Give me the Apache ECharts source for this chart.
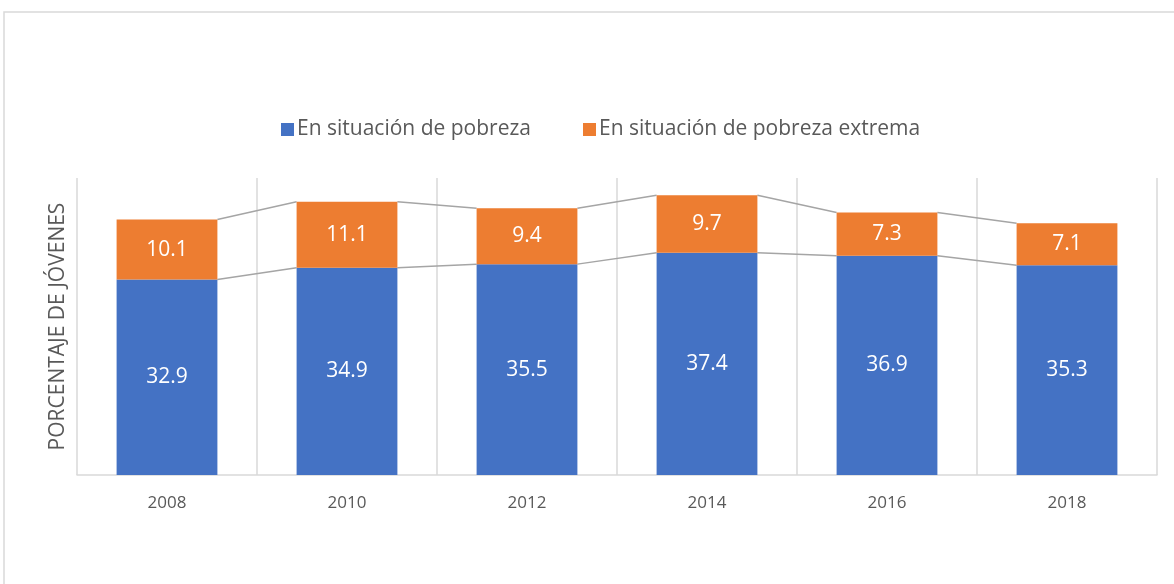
<!DOCTYPE html>
<html>
<head>
<meta charset="utf-8">
<script src="https://cdn.jsdelivr.net/npm/echarts@6/dist/echarts.min.js"></script>
<style>
html,body{margin:0;padding:0;background:#fff;}
#main{width:1174px;height:584px;}
</style>
</head>
<body>
<div id="main"></div>
<script>
var years = ['2008', '2010', '2012', '2014', '2016', '2018'];
var pobreza = [32.9, 34.9, 35.5, 37.4, 36.9, 35.3];
var extrema = [10.1, 11.1, 9.4, 9.7, 7.3, 7.1];

var fontFam = '"Open Sans", "Noto Sans", sans-serif';
var barPct = 0.56;

// connector segments: [index, value here, value next]
function links(tops) {
    var out = [];
    for (var i = 0; i < tops.length - 1; i++) {
        out.push([i, tops[i], tops[i + 1]]);
    }
    return out;
}
var tops1 = pobreza.slice();
var tops2 = pobreza.map(function (v, i) { return +(v + extrema[i]).toFixed(1); });

function linkItem(params, api) {
    var i = api.value(0);
    var a = api.coord([i, api.value(1)]);
    var b = api.coord([i + 1, api.value(2)]);
    var half = api.size([1, 0])[0] * barPct / 2;
    return {
        type: 'line',
        shape: { x1: a[0] + half, y1: a[1], x2: b[0] - half, y2: b[1] },
        style: { stroke: '#A5A5A5', lineWidth: 1.5 }
    };
}

var option = {
    backgroundColor: '#fff',
    animation: false,
    textStyle: { fontFamily: fontFam },
    graphic: [{
        type: 'rect',
        shape: { x: 4, y: 12, width: 1180, height: 600 },
        style: { fill: 'none', stroke: '#D9D9D9', lineWidth: 1.5 },
        silent: true
    }],
    legend: {
        top: 114,
        left: 276,
        itemWidth: 13,
        itemHeight: 13,
        itemGap: 52,
        icon: 'rect',
        data: ['En situación de pobreza', 'En situación de pobreza extrema'],
        textStyle: { color: '#595959', fontSize: 21, fontFamily: fontFam, padding: [0, 0, 0, -2] }
    },
    grid: { left: 77, right: 17, top: 178, bottom: 109 },
    xAxis: {
        type: 'category',
        data: years,
        axisLine: { lineStyle: { color: '#D9D9D9', width: 1.5 } },
        axisTick: { show: false },
        splitLine: { show: true, lineStyle: { color: '#D9D9D9', width: 1.5 } },
        axisLabel: { color: '#595959', fontSize: 17, margin: 20, fontFamily: fontFam }
    },
    yAxis: {
        type: 'value',
        min: 0,
        max: 50,
        name: 'PORCENTAJE DE JÓVENES',
        nameLocation: 'middle',
        nameGap: 8,
        nameTextStyle: { color: '#595959', fontSize: 21, fontFamily: fontFam },
        axisLine: { show: false },
        axisTick: { show: false },
        axisLabel: { show: false },
        splitLine: { show: false }
    },
    series: [
        {
            name: 'En situación de pobreza',
            type: 'bar',
            stack: 'total',
            barWidth: (barPct * 100) + '%',
            itemStyle: { color: '#4472C4' },
            label: { show: true, position: 'inside', color: '#fff', fontSize: 21, fontFamily: fontFam },
            data: pobreza
        },
        {
            name: 'En situación de pobreza extrema',
            type: 'bar',
            stack: 'total',
            barWidth: (barPct * 100) + '%',
            itemStyle: { color: '#ED7D31' },
            label: { show: true, position: 'inside', color: '#fff', fontSize: 21, fontFamily: fontFam },
            data: extrema
        },
        {
            type: 'custom',
            renderItem: linkItem,
            silent: true,
            z: 1,
            data: links(tops1)
        },
        {
            type: 'custom',
            renderItem: linkItem,
            silent: true,
            z: 1,
            data: links(tops2)
        }
    ]
};

echarts.init(document.getElementById('main')).setOption(option);
</script>
</body>
</html>
